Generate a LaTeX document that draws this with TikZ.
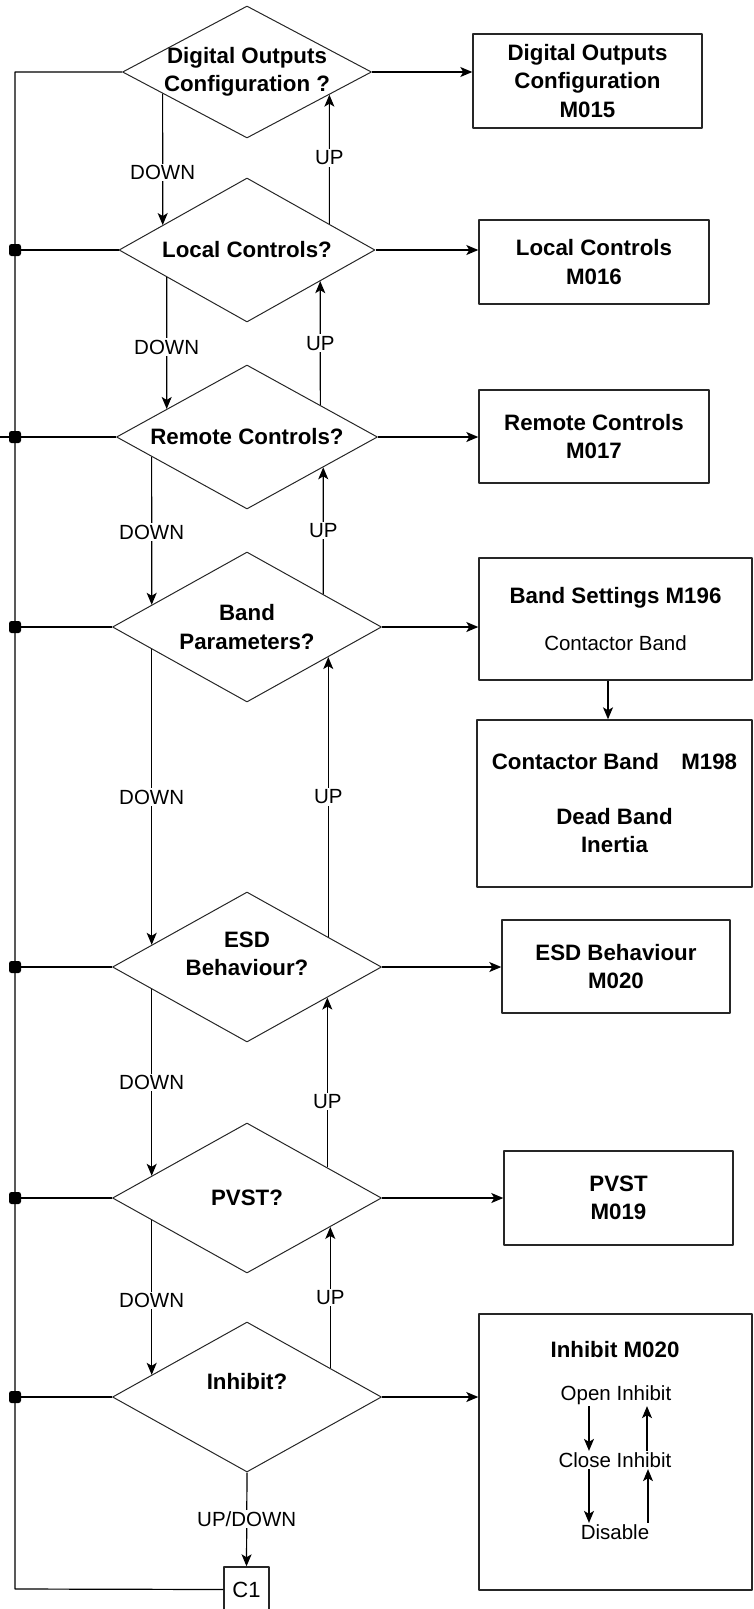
\documentclass[tikz,border=0pt]{standalone}
\usepackage{fontspec}
\setmainfont{Liberation Sans}
\usetikzlibrary{shapes.geometric,arrows.meta,calc}

\tikzset{
  decision/.style={diamond, draw=black!85, line width=1pt, inner sep=0pt},
  qtext/.style={align=center, font=\bfseries\fontsize{22.3}{28.5}\selectfont},
  menu/.style={rectangle, draw=black!85, line width=1.4pt, align=center, font=\bfseries\fontsize{22.3}{28.5}\selectfont},
  choice/.style={fill=white, inner sep=1.5pt, font=\fontsize{20.5}{24}\selectfont},
  item/.style={inner sep=1pt, font=\fontsize{20.5}{24}\selectfont},
  tap/.style={rectangle, fill, rounded corners=2.5pt, minimum size=12pt, inner sep=0pt},
}

\begin{document}
\begin{tikzpicture}[x=1pt, y=-1pt, line width=1.2pt, line join=round, >={Stealth[length=12pt,width=10pt,inset=3pt]}]
\def\busx{15} \def\cx{247}
\useasboundingbox (0,0) rectangle (753,1609);
\clip (0,0) rectangle (753,1609);
% decisions
\node[decision, minimum width=249pt, minimum height=132pt, label={[qtext]center:{Digital Outputs\\Configuration ?}}] (d1) at (\cx,72) {};
\node[decision, minimum width=256pt, minimum height=144pt, label={[qtext]center:{Local Controls?}}] (d2) at (\cx,250) {};
\node[decision, minimum width=261pt, minimum height=144pt, label={[qtext]center:{Remote Controls?}}] (d3) at (\cx,437) {};
\node[decision, minimum width=269pt, minimum height=150pt, label={[qtext]center:{Band\\Parameters?}}] (d4) at (\cx,627) {};
\node[decision, minimum width=269pt, minimum height=150pt, label={[qtext,yshift=13pt]center:{ESD\\Behaviour?}}] (d5) at (\cx,967) {};
\node[decision, minimum width=269pt, minimum height=150pt, label={[qtext]center:{PVST?}}] (d6) at (\cx,1198) {};
\node[decision, minimum width=269pt, minimum height=150pt, label={[qtext,yshift=15pt]center:{Inhibit?}}] (d7) at (\cx,1397) {};
\node[draw=black!85, line width=1.4pt, minimum width=45pt, minimum height=45pt, font=\fontsize{22}{24}\selectfont] (c1) at (246.5,1589.5) {C1};
% menus
\node[menu, minimum width=229pt, minimum height=94pt] (b1) at (587.5,81) {Digital Outputs\\Configuration\\M015};
\node[menu, minimum width=230pt, minimum height=84pt] (b2) at (594,262) {Local Controls\\M016};
\node[menu, minimum width=230pt, minimum height=93pt] (b3) at (594,436.5) {Remote Controls\\M017};
\node[menu, minimum width=273pt, minimum height=122pt] (b4) at (615.5,619) {Band Settings M196\\[19pt]{\mdseries\fontsize{20.5}{24}\selectfont Contactor Band}};
\node[menu, minimum width=275pt, minimum height=167pt] (cb) at (614.5,803.5) {Contactor Band\quad M198\\[26pt]Dead Band\\Inertia};
\node[menu, minimum width=228pt, minimum height=93pt] (b5) at (616,966.5) {ESD Behaviour\\M020};
\node[menu, minimum width=229pt, minimum height=94pt] (b6) at (618.5,1198) {PVST\\M019};
\node[menu, minimum width=273pt, minimum height=276pt] (b7) at (615.5,1452) {};
\node[qtext] (b7t) at (615,1350) {Inhibit M020};
\node[item] (oi) at (616,1395) {Open Inhibit};
\node[item] (ci) at (615,1460) {Close Inhibit};
\node[item] (ds) at (615,1532) {Disable};
% bus on the left
\coordinate (bl) at (\busx,1589);
\coordinate (lend) at (0,437);
\draw (d1.west) -| (bl) -- (c1.west);
\foreach \d in {d2,d4,d5,d6,d7} \draw (\d.west) -- (\d.west -| bl);
\draw (d3.west) -- (lend);
\foreach \i in {2,...,7} \node[tap] (j\i) at (d\i.west -| bl) {};
% to the menus
\foreach \i in {1,...,7} \draw[->] (d\i.east) -- (d\i.east -| b\i.west);
\draw[->] ([xshift=-7.5pt]b4.south) -- ([xshift=-7.5pt]b4.south |- cb.north);
% down
\draw[->] ($(d1.west)!.325!(d1.south)$) -- ($(d2.west)!.344!(d2.north)$) node[choice,pos=.6]{DOWN};
\draw[->] ($(d2.west)!.375!(d2.south)$) -- ($(d3.west)!.387!(d3.north)$) node[choice,pos=.53]{DOWN};
\draw[->] ($(d3.west)!.272!(d3.south)$) -- ($(d4.west)!.294!(d4.north)$) node[choice,pos=.51]{DOWN};
\draw[->] ($(d4.west)!.294!(d4.south)$) -- ($(d5.west)!.294!(d5.north)$) node[choice,pos=.5]{DOWN};
\draw[->] ($(d5.west)!.294!(d5.south)$) -- ($(d6.west)!.294!(d6.north)$) node[choice,pos=.5]{DOWN};
\draw[->] ($(d6.west)!.294!(d6.south)$) -- ($(d7.west)!.294!(d7.north)$) node[choice,pos=.52]{DOWN};
% up
\draw[->] ($(d2.east)!.359!(d2.north)$) -- ($(d1.east)!.341!(d1.south)$) node[choice,pos=.51]{UP};
\draw[->] ($(d3.east)!.44!(d3.north)$) -- ($(d2.east)!.43!(d2.south)$) node[choice,pos=.5]{UP};
\draw[->] ($(d4.east)!.435!(d4.north)$) -- ($(d3.east)!.418!(d3.south)$) node[choice,pos=.5]{UP};
\draw[->] ($(d5.east)!.398!(d5.north)$) -- ($(d4.east)!.398!(d4.south)$) node[choice,pos=.5]{UP};
\draw[->] ($(d6.east)!.405!(d6.north)$) -- ($(d5.east)!.405!(d5.south)$) node[choice,pos=.39]{UP};
\draw[->] ($(d7.east)!.383!(d7.north)$) -- ($(d6.east)!.383!(d6.south)$) node[choice,pos=.5]{UP};
\draw[->] (d7.south) -- (c1.north) node[choice,pos=.5]{UP/DOWN};
% inhibit states
\draw[->] ([xshift=-27pt]oi.south) -- ([xshift=-27pt]oi.south |- ci.north);
\draw[->] ([xshift=32pt]ci.north) -- ([xshift=32pt]ci.north |- oi.south);
\draw[->] ([xshift=-26pt]ci.south) -- ([xshift=-26pt]ci.south |- ds.north);
\draw[->] ([xshift=33pt]ds.north) -- ([xshift=33pt]ds.north |- ci.south);
\end{tikzpicture}
\end{document}
